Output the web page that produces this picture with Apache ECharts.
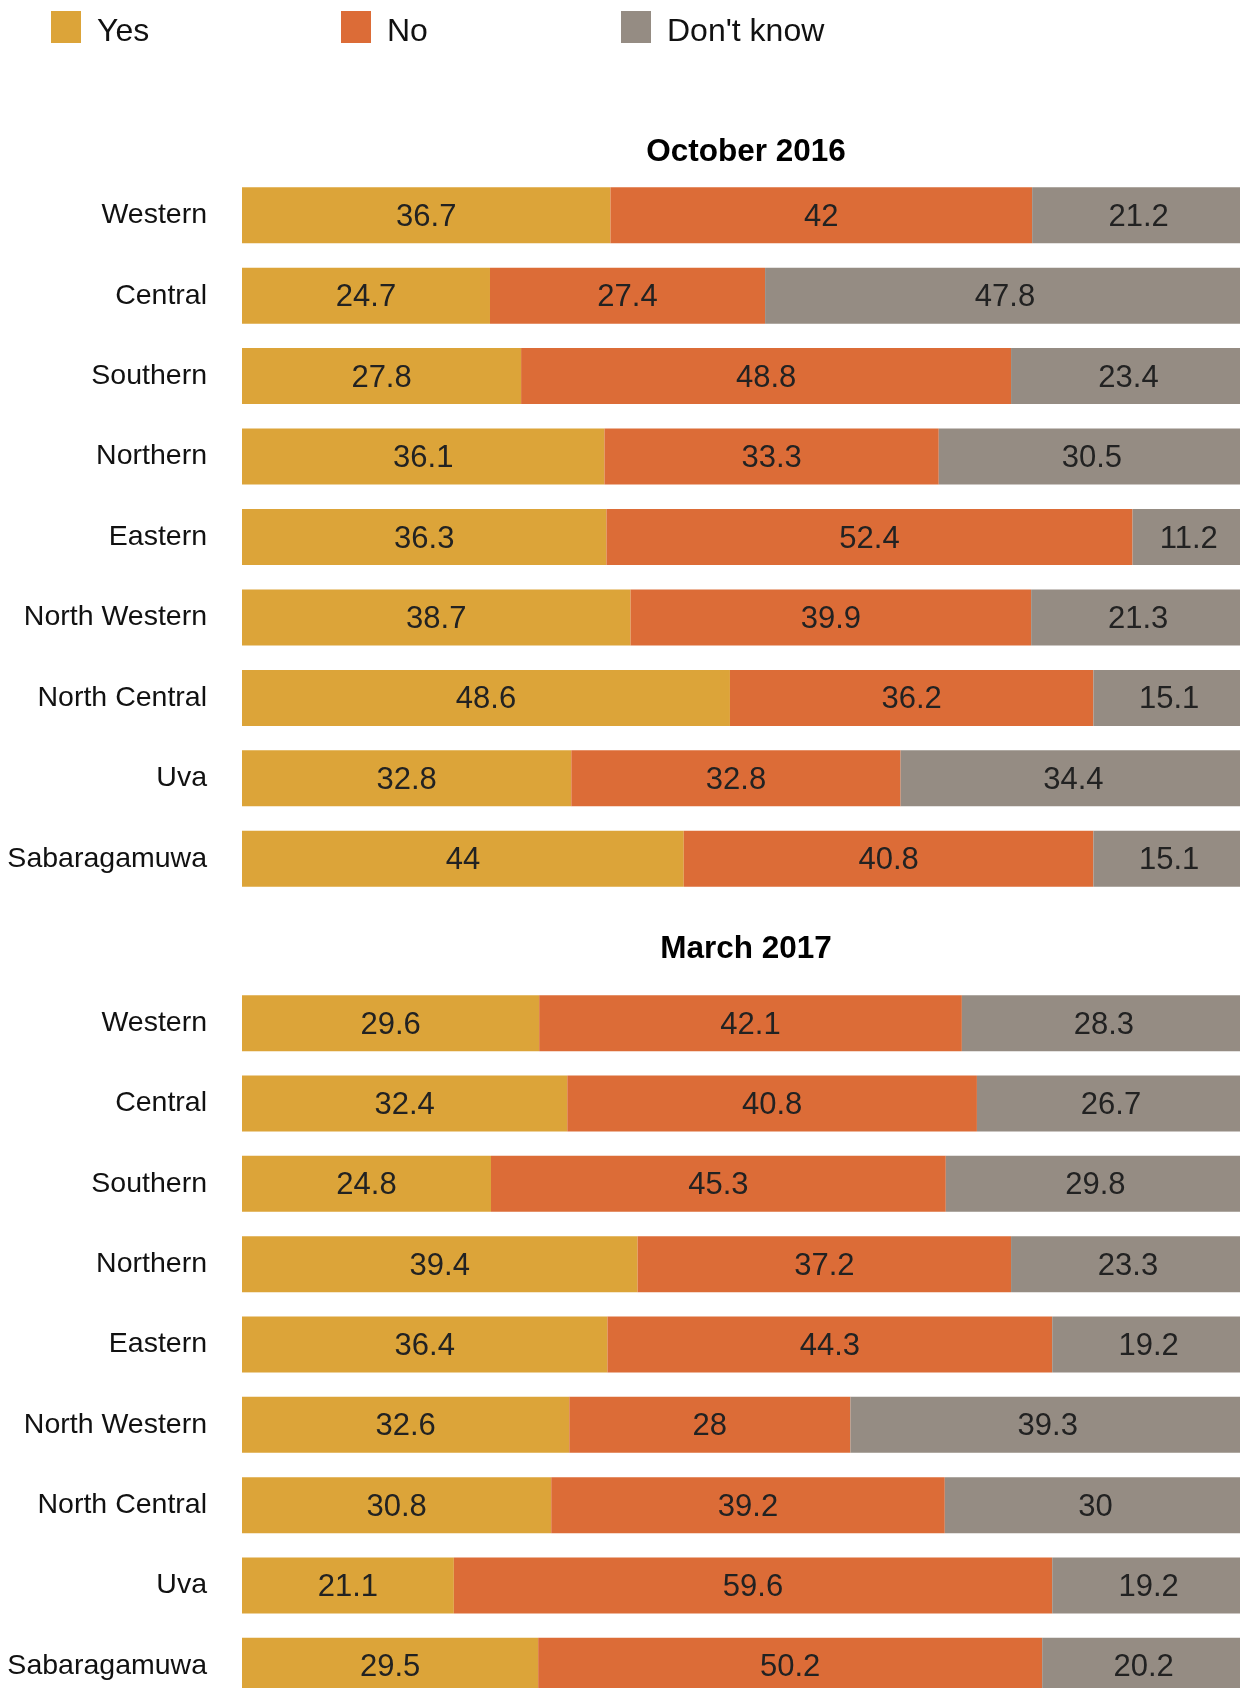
<!DOCTYPE html>
<html>
<head>
<meta charset="utf-8">
<script src="https://cdn.jsdelivr.net/npm/echarts@6/dist/echarts.min.js"></script>
<style>
html,body{margin:0;padding:0;background:#fff;}
#chart{width:1240px;height:1688px;}
</style>
</head>
<body>
<div id="chart"></div>
<script>
const categories = ["Western","Central","Southern","Northern","Eastern","North Western","North Central","Uva","Sabaragamuwa"];
const periods = ["October 2016","March 2017"];
const seriesNames = ["Yes","No","Don't know"];
const oct2016Yes = [36.7,24.7,27.8,36.1,36.3,38.7,48.6,32.8,44];
const oct2016No = [42,27.4,48.8,33.3,52.4,39.9,36.2,32.8,40.8];
const oct2016DontKnow = [21.2,47.8,23.4,30.5,11.2,21.3,15.1,34.4,15.1];
const mar2017Yes = [29.6,32.4,24.8,39.4,36.4,32.6,30.8,21.1,29.5];
const mar2017No = [42.1,40.8,45.3,37.2,44.3,28,39.2,59.6,50.2];
const mar2017DontKnow = [28.3,26.7,29.8,23.3,19.2,39.3,30,19.2,20.2];

const colors = ["#DCA439","#DC6C37","#958C83"];
const FONT = "'Liberation Sans', Helvetica, Arial, sans-serif";

const chart = echarts.init(document.getElementById('chart'));

const grids = [
  {left:242, top:175, width:1004, height:724, outerBoundsMode:'none', containLabel:false},
  {left:242, top:983, width:1004, height:723, outerBoundsMode:'none', containLabel:false}
];

function mk(name, data, gi, ci){
  return {
    name: name, type:'bar', stack:'s'+gi, data: data,
    xAxisIndex: gi, yAxisIndex: gi,
    barWidth: 56,
    itemStyle:{color: colors[ci]},
    label:{show:true, position:'inside', formatter:'{c}', color:'#222', fontFamily:FONT, fontSize:31, offset:[0,2]},
    emphasis:{disabled:true},
    animation:false
  };
}

const legendLefts = [46, 336, 616];

const option = {
  animation:false,
  color: colors,
  legend: seriesNames.map((n,i)=>({
    data:[n], left:legendLefts[i], top:6, itemWidth:30, itemHeight:32,
    icon:'rect', selectedMode:false,
    formatter: '{t|{name}}',
    textStyle:{fontFamily:FONT, fontSize:32, color:'#111',
      rich:{t:{fontFamily:FONT, fontSize:32, color:'#111', padding:[10,0,0,11]}}}
  })),
  title: periods.map((p,i)=>({
    text:p, left:741, top: i===0 ? 131 : 928, textAlign:'center',
    textStyle:{fontFamily:FONT, fontSize:31.5, fontWeight:'bold', color:'#000'}
  })),
  grid: grids,
  xAxis: grids.map((g,i)=>({type:'value', gridIndex:i, min:0, max:100, show:false})),
  yAxis: grids.map((g,i)=>({
    type:'category', gridIndex:i, data:categories, inverse:true,
    axisLine:{show:false}, axisTick:{show:false}, splitLine:{show:false},
    axisLabel:{margin:35, fontFamily:FONT, fontSize:28.5, color:'#111'}
  })),
  series: [
    mk("Yes", oct2016Yes, 0, 0),
    mk("No", oct2016No, 0, 1),
    mk("Don't know", oct2016DontKnow, 0, 2),
    mk("Yes", mar2017Yes, 1, 0),
    mk("No", mar2017No, 1, 1),
    mk("Don't know", mar2017DontKnow, 1, 2)
  ]
};
chart.setOption(option);
</script>
</body>
</html>
